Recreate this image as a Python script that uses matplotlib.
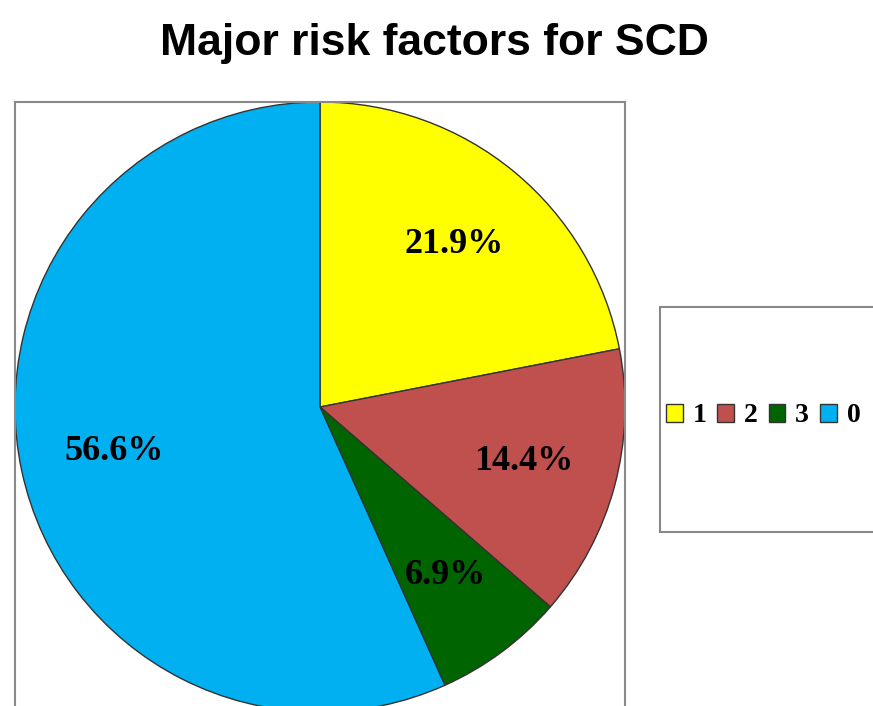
import matplotlib.pyplot as plt
from matplotlib.patches import Rectangle, Patch

# data
labels = ["1", "2", "3", "0"]
shares = [21.9, 14.4, 6.9, 56.6]
colors = ["#FFFF00", "#C0504D", "#006400", "#00B0F0"]
title = "Major risk factors for SCD"

W, H = 873, 706
fig = plt.figure(figsize=(W / 100, H / 100), dpi=100)
fig.patch.set_facecolor("white")

fig.text(434 / W, 1 - 44 / H, title, ha="center", va="center",
         fontsize=32, fontweight="bold", family="Liberation Sans")

# plot area box (runs off the bottom of the image)
total = sum(shares)
ax = fig.add_axes([15 / W, 1 - 712 / H, 610 / W, 610 / H])
wedges, texts, autotexts = ax.pie(
    shares, colors=colors, startangle=90, counterclock=False,
    autopct=lambda p: f"{p * total / 100:.1f}%", pctdistance=0.69, radius=1,
    wedgeprops=dict(edgecolor="#333333", linewidth=1),
    textprops=dict(family="Liberation Serif", fontweight="bold",
                   fontsize=26, color="black"))
ax.set_xlim(-1, 1)
ax.set_ylim(-1, 1)
ax.set_aspect("equal")
ax.set_xticks([])
ax.set_yticks([])
ax.set_frame_on(True)
for s in ax.spines.values():
    s.set_edgecolor("#888888")
    s.set_linewidth(1.5)

# legend box, cut off at the right edge
fig.patches.append(Rectangle((660 / W, 1 - 532 / H), 260 / W, 225 / H,
                             transform=fig.transFigure, facecolor="white",
                             edgecolor="#888888", linewidth=1.5))
handles = [Patch(facecolor=c, edgecolor="#333333", linewidth=1) for c in colors]
fig.legend(handles, labels, loc="center left", bbox_to_anchor=(666 / W, 1 - 416 / H),
           ncol=4, frameon=False, handlelength=0.6, handleheight=0.6,
           handletextpad=0.35, columnspacing=0.4, borderaxespad=0, borderpad=0,
           prop=dict(family="Liberation Serif", weight="bold", size=20))

fig.savefig("out.png", dpi=100)
